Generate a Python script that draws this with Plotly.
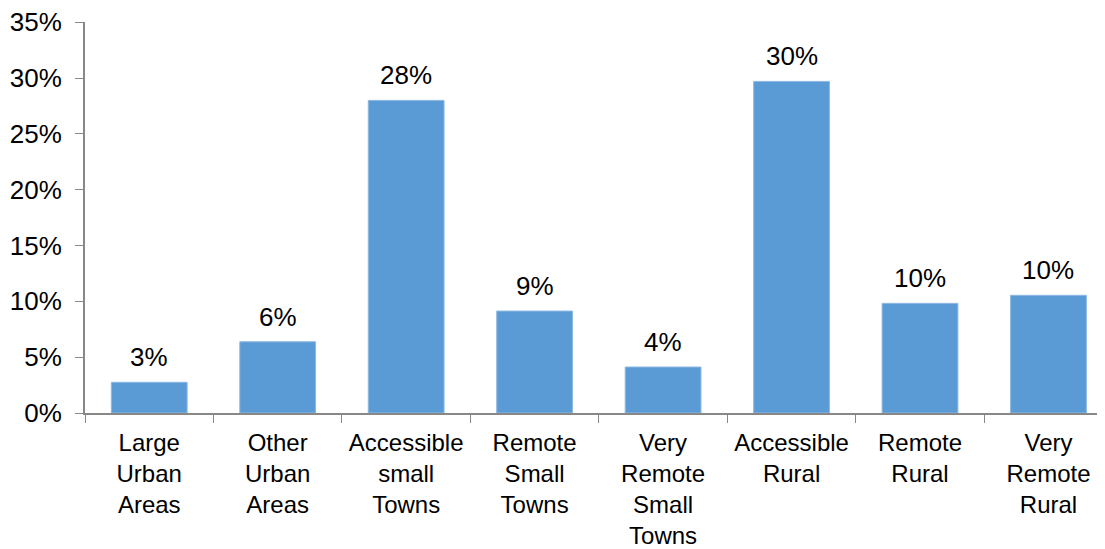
import plotly.graph_objects as go

categories = ["Large<br>Urban<br>Areas", "Other<br>Urban<br>Areas", "Accessible<br>small<br>Towns",
              "Remote<br>Small<br>Towns", "Very<br>Remote<br>Small<br>Towns", "Accessible<br>Rural",
              "Remote<br>Rural", "Very<br>Remote<br>Rural"]
values = [2.75, 6.38, 28.0, 9.13, 4.12, 29.7, 9.82, 10.54]
labels = ["3%", "6%", "28%", "9%", "4%", "30%", "10%", "10%"]
y_ticks = [0, 5, 10, 15, 20, 25, 30, 35]
y_ticktext = [f"{v}%" for v in y_ticks]

FONT = "Liberation Sans, Arial, sans-serif"
FS = 26

fig = go.Figure(go.Bar(
    x=categories, y=values,
    marker=dict(color="#5B9BD5", line=dict(color="#8DB8E3", width=1)),
    hoverinfo="skip",
))

for c, v, t in zip(categories, values, labels):
    fig.add_annotation(x=c, y=v, text=t, showarrow=False, yanchor="bottom", yshift=8,
                       font=dict(family=FONT, size=FS, color="#000000"))

fig.update_layout(
    width=1097, height=541,
    margin=dict(l=77, r=0, t=14, b=136, autoexpand=False),
    plot_bgcolor="white", paper_bgcolor="white",
    bargap=0.41,
    showlegend=False,
    font=dict(family=FONT, size=FS, color="#000000"),
)
fig.update_xaxes(
    range=[-0.5, 7.44], automargin=False, tickangle=0,
    showline=True, linecolor="#888888", linewidth=2,
    ticks="outside", tickson="boundaries", ticklen=8, tickcolor="#888888", tickwidth=1,
    ticklabelstandoff=7, ticklabeloverflow="allow",
    tickfont=dict(family=FONT, size=24, color="#000000"),
    showgrid=False,
)
fig.update_yaxes(
    range=[0, 35.02], automargin=False,
    tickvals=y_ticks, ticktext=y_ticktext,
    showline=True, linecolor="#888888", linewidth=2,
    ticks="outside", ticklen=8, tickcolor="#888888", tickwidth=1,
    ticklabelstandoff=8, ticklabeloverflow="allow",
    tickfont=dict(family=FONT, size=FS, color="#000000"),
    showgrid=False, zeroline=False,
)

fig.write_html("out.html")
